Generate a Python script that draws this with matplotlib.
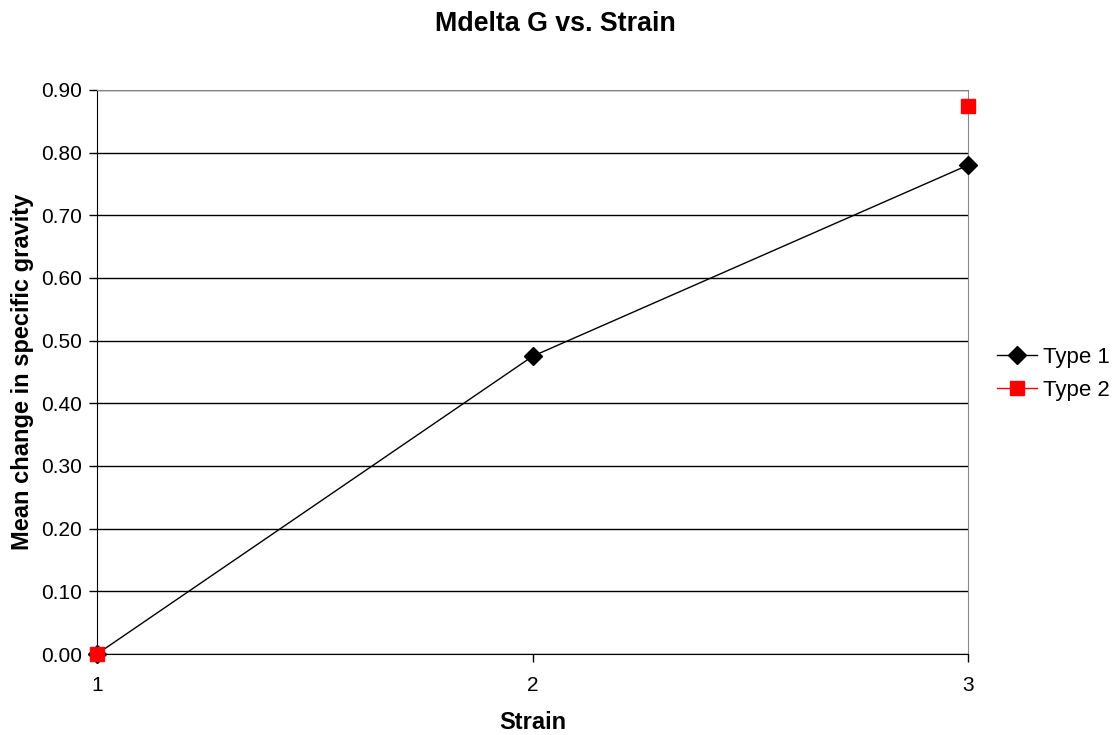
import numpy as np
import matplotlib.pyplot as plt

plt.rcParams['font.family'] = ['Liberation Sans', 'DejaVu Sans']

# 数据
strain = [1, 2, 3]
type1 = [0.0, 0.475, 0.78]
type2 = [0.0, np.nan, 0.875]
yticks = np.arange(0, 0.91, 0.1)

fig = plt.figure(figsize=(11.18, 7.35), dpi=100)
ax = fig.add_axes([0.0868, 0.1102, 0.7790, 0.7674])

for y in yticks:
    ax.axhline(y, color='black', linewidth=1, zorder=1)

ax.plot(strain, type1, color='black', linewidth=1, marker='D', markersize=9.5,
        label='Type 1', zorder=3, clip_on=False)
ax.plot(strain, type2, color='red', linewidth=1, marker='s', markersize=10,
        label='Type 2', zorder=4, clip_on=False)

ax.set_xlim(1, 3)
ax.set_ylim(0, 0.9)
ax.set_xticks(strain)
ax.set_yticks(yticks)
ax.set_yticklabels([f"{v:.2f}" for v in yticks])
ax.tick_params(axis='both', direction='out', length=6, width=1, labelsize=15, pad=5)
ax.tick_params(axis='x', pad=10)

ax.spines['left'].set_color('black')
ax.spines['bottom'].set_color('black')
ax.spines['top'].set_color('#888888')
ax.spines['right'].set_color('#888888')

ax.set_xlabel('Strain', fontsize=17, fontweight='bold', labelpad=11)
ax.set_ylabel('Mean change in specific gravity', fontsize=17, fontweight='bold', labelpad=5)
fig.suptitle('Mdelta G vs. Strain', fontsize=19.3, fontweight='bold', x=0.497, y=0.985)

ax.legend(loc='center left', bbox_to_anchor=(1.033, 0.497), frameon=False,
          borderpad=0, borderaxespad=0,
          fontsize=16, handlelength=1.8, handletextpad=0.3, labelspacing=0.55)

fig.savefig('out.png', dpi=100)
